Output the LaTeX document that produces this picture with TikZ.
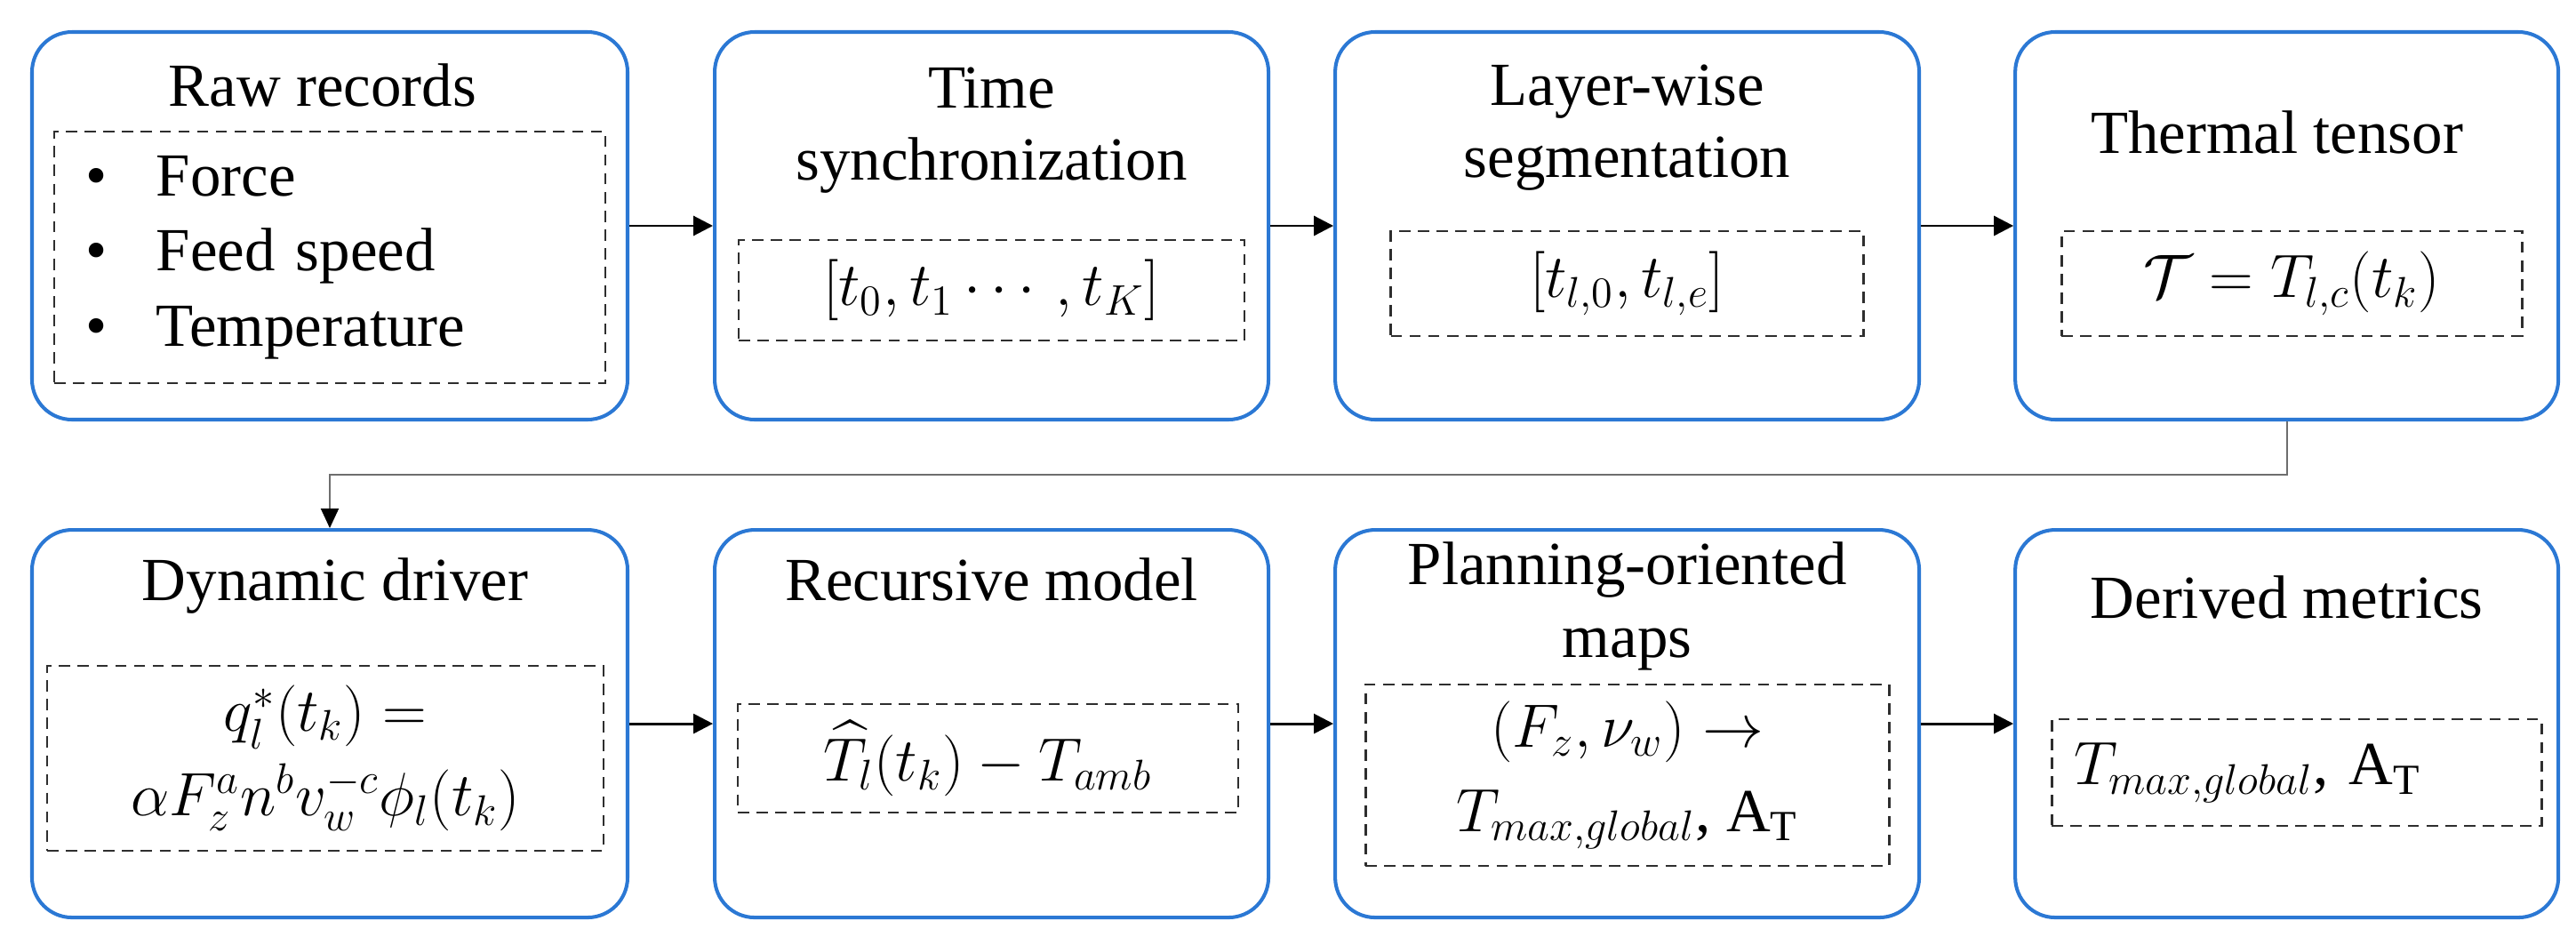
\documentclass[tikz,border=0pt]{standalone}
\usepackage{fix-cm}
\usepackage{amsmath, amssymb}
\usepackage{fontspec}
\setmainfont{Liberation Serif}
\usepackage{tikz}
\usetikzlibrary{arrows.meta, positioning, calc}
\definecolor{stageBlue}{HTML}{2B78D4}
\definecolor{dashGray}{HTML}{2E2E2E}
\definecolor{linkGray}{HTML}{6E6E6E}

\begin{document}
\begin{tikzpicture}[
  stage/.style={draw=stageBlue, line width=1.15pt, rounded corners=0.45cm, minimum height=4.36cm, inner sep=0pt},
  detail/.style={draw=dashGray, line width=0.8pt, dash pattern=on 3.6pt off 2.4pt, align=center, inner sep=0pt, font=\fontsize{19.6}{24.1}\selectfont},
  title/.style={align=center, anchor=base, inner sep=0pt, font=\fontsize{19.6}{23.3}\selectfont},
  flow/.style={-{Triangle[length=0.22cm, width=0.22cm]}, line width=0.85pt},
  link/.style={-{Triangle[length=0.22cm, width=0.2cm, color=black]}, draw=linkGray, line width=0.55pt},
]
  \useasboundingbox (0,0) rectangle (28.98,-10.62);

  % top row
  \node[stage, minimum width=6.70cm] (raw) at (3.71,-2.54) {};
  \node[stage, minimum width=6.23cm, right=0.94cm of raw] (sync) {};
  \node[stage, minimum width=6.57cm, right=0.71cm of sync] (seg) {};
  \node[stage, minimum width=6.11cm, right=1.04cm of seg] (tensor) {};
  % bottom row
  \node[stage, minimum width=6.70cm, below=1.20cm of raw] (driver) {};
  \node[stage, minimum width=6.23cm, right=0.94cm of driver] (rec) {};
  \node[stage, minimum width=6.57cm, right=0.71cm of rec] (maps) {};
  \node[stage, minimum width=6.11cm, right=1.04cm of maps] (metrics) {};

  % titles (base = last line)
  \node[title] (rawT) at ([xshift=-0.08cm, yshift=-0.86cm]raw.north) {Raw records};
  \node[title] (syncT) at ([yshift=-1.69cm]sync.north) {Time\\synchronization};
  \node[title] (segT) at ([yshift=-1.66cm]seg.north) {Layer-wise\\segmentation};
  \node[title] (tensorT) at ([xshift=-0.11cm, yshift=-1.39cm]tensor.north) {Thermal tensor};
  \node[title] (driverT) at ([xshift=0.06cm, yshift=-0.81cm]driver.north) {Dynamic driver};
  \node[title] (recT) at ([yshift=-0.81cm]rec.north) {Recursive model};
  \node[title] (mapsT) at ([yshift=-1.45cm]maps.north) {Planning-oriented\\maps};
  \node[title] (metricsT) at ([yshift=-1.01cm]metrics.north) {Derived metrics};

  % dashed contents
  \node[detail, align=left, text width=5.50cm, inner xsep=0.35cm, minimum height=2.83cm] (rawD) at ([yshift=-2.555cm]raw.north)
    {\makebox[0.80cm][l]{\textbullet}Force\\\makebox[0.80cm][l]{\textbullet}Feed speed\\\makebox[0.80cm][l]{\textbullet}Temperature};
  \node[detail, minimum width=5.69cm, minimum height=1.13cm] (syncD) at ([yshift=-2.925cm]sync.north) {$[t_0, t_1 \cdots, t_K]$};
  \node[detail, minimum width=5.32cm, minimum height=1.18cm] (segD) at ([yshift=-2.85cm]seg.north) {$[t_{l,0}, t_{l,e}]$};
  \node[detail, minimum width=5.18cm, minimum height=1.18cm] (tensorD) at ([xshift=0.055cm, yshift=-2.85cm]tensor.north) {$\mathcal{T} = T_{l,c}(t_k)$};
  \node[detail, minimum width=6.26cm, minimum height=2.08cm] (driverD) at ([xshift=-0.05cm, yshift=-2.59cm]driver.north)
    {$q_l^*(t_k) =$\\[3pt]$\alpha F_z^a n^b v_w^{-c} \phi_l(t_k)$};
  \node[detail, minimum width=5.63cm, minimum height=1.22cm] (recD) at ([xshift=-0.04cm, yshift=-2.59cm]rec.north) {$\widehat{T}_l(t_k) - T_{amb}$};
  \node[detail, minimum width=5.89cm, minimum height=2.04cm] (mapsD) at ([yshift=-2.78cm]maps.north)
    {$(F_z, \nu_w) \rightarrow$\\[3pt]$T_{max,global}$, $\mathrm{A}_\mathrm{T}$};
  \node[detail, align=left, text width=5.01cm, inner xsep=0.25cm, minimum height=1.20cm] (metricsD) at ([xshift=0.11cm, yshift=-2.75cm]metrics.north)
    {$T_{max,global}$, $\mathrm{A}_\mathrm{T}$};

  % connectors
  \foreach \a/\b in {raw/sync, sync/seg, seg/tensor, driver/rec, rec/maps, maps/metrics}
    \draw[flow] (\a) -- (\b);
  \draw[link] (tensor.south) -- ++(0,-0.60) -| (driver.north);
\end{tikzpicture}
\end{document}
